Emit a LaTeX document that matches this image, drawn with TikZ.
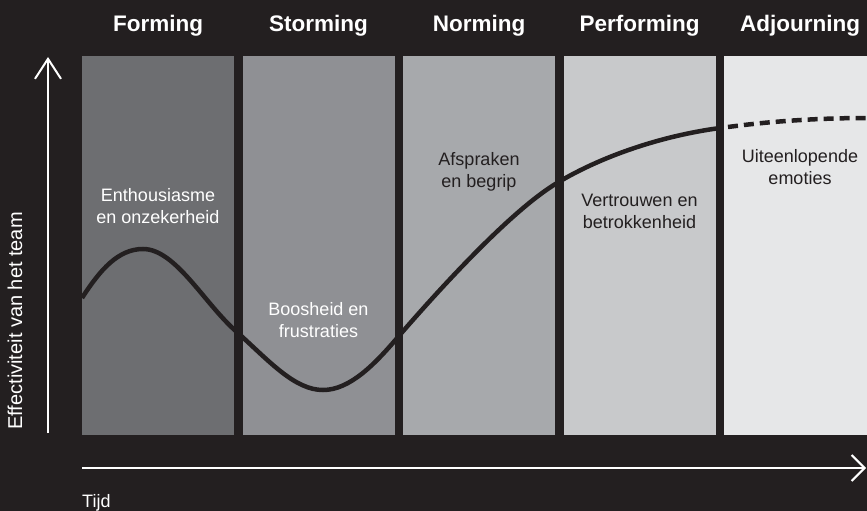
\documentclass[tikz,border=0pt]{standalone}
\usepackage{fontspec}
\setmainfont{Liberation Sans}
\usetikzlibrary{arrows.meta}
\definecolor{bg}{HTML}{231F20}
\definecolor{shadeA}{HTML}{6D6E71}
\definecolor{shadeB}{HTML}{8F9094}
\definecolor{shadeC}{HTML}{A7A9AC}
\definecolor{shadeD}{HTML}{C8C9CB}
\definecolor{shadeE}{HTML}{E6E7E8}
\begin{document}
\begin{tikzpicture}[x=1pt,y=-1pt]
\tikzstyle{every node}+=[inner sep=0pt]
\tikzstyle{phase}=[rectangle, minimum width=152pt, minimum height=379pt]
\tikzstyle{heading}=[text=white, font=\fontsize{22.5}{26}\selectfont\bfseries, anchor=base]
\tikzstyle{mood}=[font=\fontsize{18}{22}\selectfont, align=center, anchor=base]
\tikzstyle{axis}=[white, line width=2pt]
\tikzstyle{curve}=[bg, line width=4.5pt]
\fill [bg] (0,0) rectangle (867,511);
\useasboundingbox (0,0) rectangle (867,511);
\clip (0,0) rectangle (867,511);
% phases
\node [phase, fill=shadeA] (forming) at (158,245.5) {};
\node [phase, fill=shadeB] (storming) at (318.5,245.5) {};
\node [phase, fill=shadeC] (norming) at (479,245.5) {};
\node [phase, fill=shadeD] (performing) at (639.5,245.5) {};
\node [phase, fill=shadeE] (adjourning) at (800,245.5) {};
\node [heading] (h1) at (158,32) {Forming};
\node [heading] (h2) at (318.5,32) {Storming};
\node [heading] (h3) at (479,32) {Norming};
\node [heading] (h4) at (639.5,32) {Performing};
\node [heading] (h5) at (800,32) {Adjourning};
% curve
\draw [curve] (82,298) .. controls (100,270) and (118,249) .. (143,249)
  .. controls (176,249) and (205,305) .. (238,333)
  .. controls (270,362) and (295,390) .. (323,390)
  .. controls (350,390) and (375,364) .. (398,337)
  .. controls (443,285) and (512,210) .. (557,183)
  .. controls (600,157) and (660,136) .. (720,128);
\draw [curve, dash pattern=on 10pt off 6pt] (728,127) .. controls (780,120) and (830,118) .. (867,118);
% texts
\node [mood, text=white] (t1) at (158,223) {Enthousiasme\\en onzekerheid};
\node [mood, text=white] (t2) at (318.5,337) {Boosheid en\\frustraties};
\node [mood, text=bg] (t3) at (479,187) {Afspraken\\en begrip};
\node [mood, text=bg] (t4) at (639.5,228) {Vertrouwen en\\betrokkenheid};
\node [mood, text=bg] (t5) at (800,184) {Uiteenlopende\\emoties};
% axes
\coordinate (ytail) at (48,433);
\coordinate (yhead) at (48,57);
\coordinate (xtail) at (82,468);
\coordinate (xhead) at (866,468);
\draw [axis, -{Straight Barb[length=20pt, width=26pt]}] (ytail) -- (yhead);
\draw [axis, -{Straight Barb[length=13pt, width=26pt]}] (xtail) -- (xhead);
\node [text=white, font=\fontsize{20}{24}\selectfont, rotate=90] (ylab) at (15,321) {Effectiviteit van het team};
\node [text=white, font=\fontsize{18}{22}\selectfont, anchor=base west] (xlab) at (82,507) {Tijd};
\end{tikzpicture}
\end{document}
